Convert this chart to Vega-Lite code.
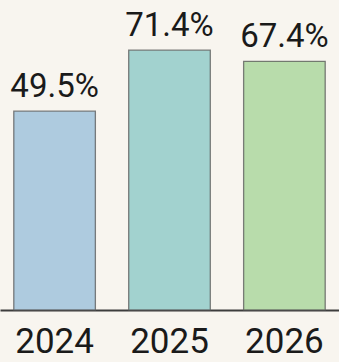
{
  "$schema": "https://vega.github.io/schema/vega-lite/v6.json",
  "width": 339,
  "height": 310,
  "padding": {"left": 0, "top": 0, "right": 0, "bottom": 52},
  "autosize": {"type": "none"},
  "background": "#f8f5ef",
  "config": {"view": {"stroke": null}},
  "data": {"values": [
    {"year": "2024", "value": 49.5, "label": "49.5%"},
    {"year": "2025", "value": 71.4, "label": "71.4%"},
    {"year": "2026", "value": 67.4, "label": "67.4%"}
  ]},
  "encoding": {
    "x": {"field": "year", "type": "nominal", "sort": null,
      "scale": {"paddingInner": 0.29, "paddingOuter": 0.12},
      "axis": {"title": null, "labelAngle": 0, "labelFont": "Roboto", "labelFontSize": 35, "labelColor": "#1a1a1a", "labelPadding": 14, "ticks": false, "domainColor": "#3d3d3d", "domainWidth": 2}},
    "y": {"field": "value", "type": "quantitative",
      "scale": {"domain": [-21.9, 89.4], "zero": false, "nice": false},
      "axis": null}
  },
  "layer": [
    {"mark": {"type": "bar", "stroke": "#555555", "strokeWidth": 1.3, "strokeOpacity": 0.75},
     "encoding": {
       "y2": {"datum": -21.9},
       "color": {"field": "year", "type": "nominal", "legend": null,
         "scale": {"domain": ["2024", "2025", "2026"], "range": ["#aecbdf", "#a2d2cf", "#b8dcab"]}}
     }},
    {"mark": {"type": "text", "font": "Roboto", "fontSize": 33, "color": "#1a1a1a", "baseline": "alphabetic", "dy": -14},
     "encoding": {"text": {"field": "label"}}}
  ]
}
